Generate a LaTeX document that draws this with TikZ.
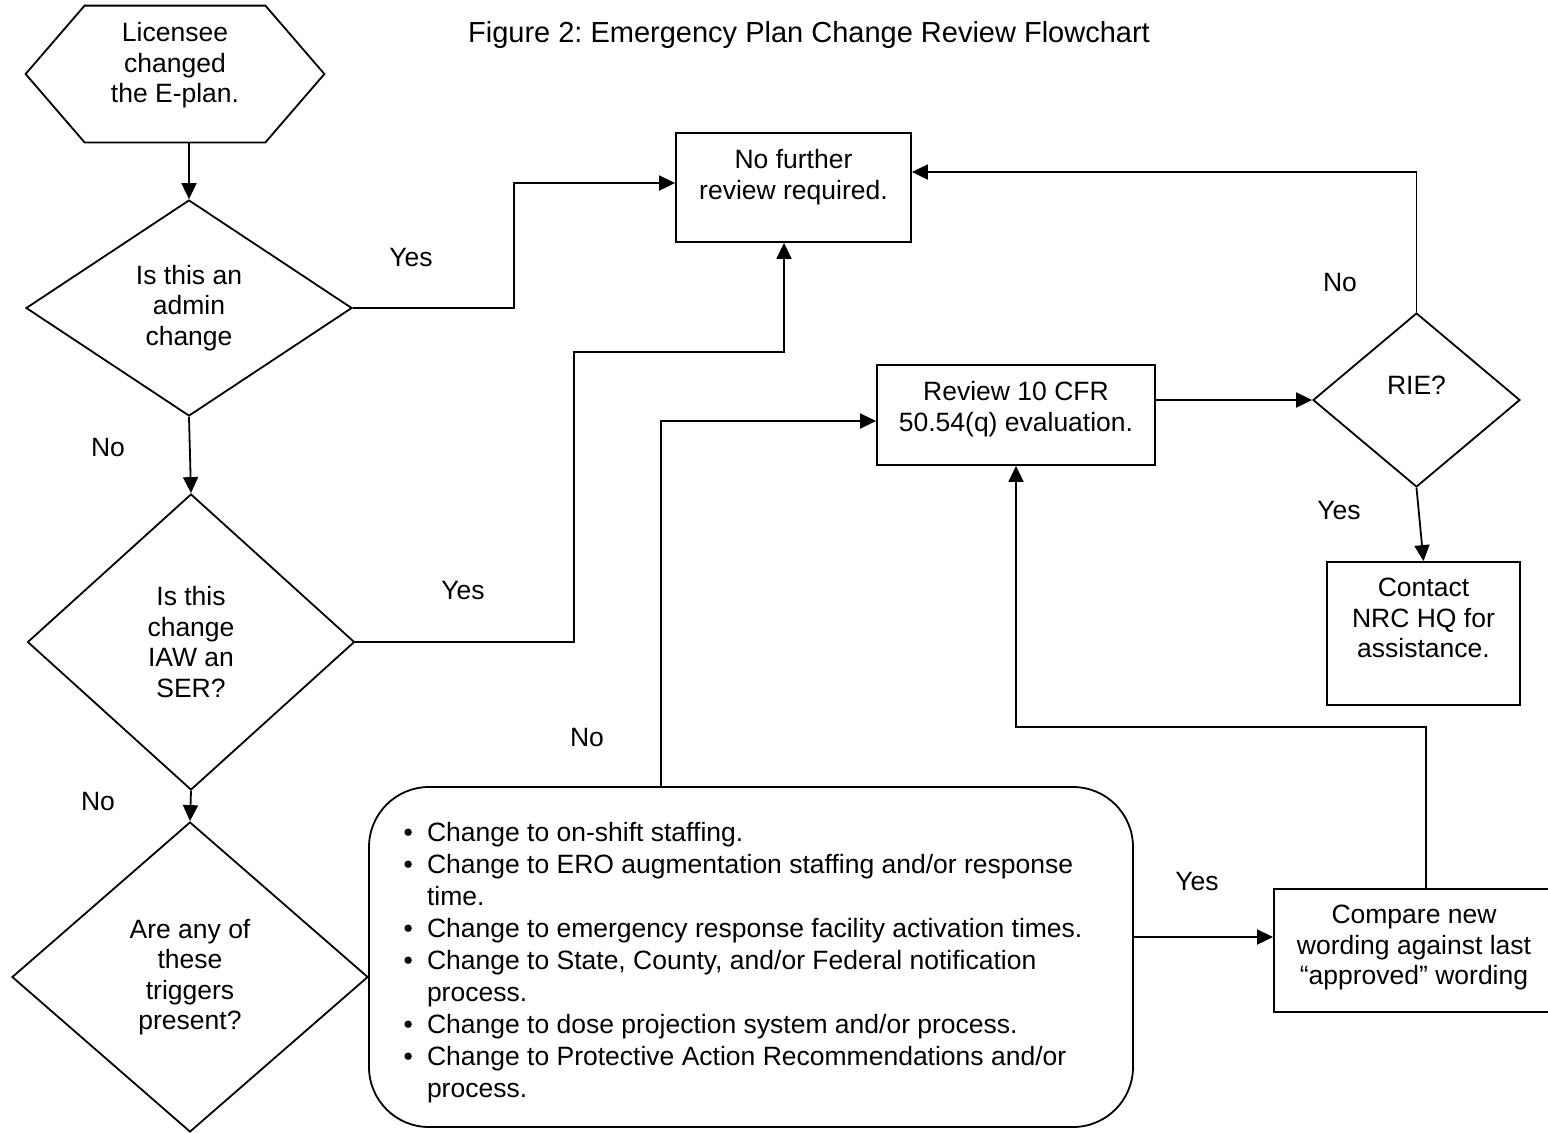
\documentclass[tikz,border=0pt]{standalone}
\usepackage{fontspec}
\setmainfont{Liberation Sans}
\frenchspacing
\usetikzlibrary{arrows.meta,shapes.geometric}
\tikzset{
every node/.style={font=\fontsize{13.25}{15.25}\selectfont}, % body text size
proc/.style={draw, rectangle, inner sep=0pt, line width=0.9pt}, % process box
decide/.style={draw, diamond, inner sep=0pt, align=center, line width=0.9pt}, % yes/no question
flow/.style={-{Triangle[length=8pt,width=7.5pt]}, line width=0.9pt}, % connectors
}
% text that starts at the top of a box
\newcommand{\toptext}[3]{\parbox[c][#2][t]{#1}{\vspace*{8.2pt}\centering #3}}

\begin{document}
\begin{tikzpicture}[x=0.5pt, y=-0.5pt]
\useasboundingbox (0,0) rectangle (1548,1132);
\node (title) at (809,35) {\fontsize{14.5}{17}\selectfont Figure 2: Emergency Plan Change Review Flowchart};

% start
\node[inner sep=0pt] (lic) at (175,74) {\toptext{149pt}{68pt}{Licensee\\changed\\the E-plan.}};
\draw[line width=0.9pt] (lic.west) -- ([xshift=29.5pt]lic.north west) -- ([xshift=-29.5pt]lic.north east)
  -- (lic.east) -- ([xshift=-29.5pt]lic.south east) -- ([xshift=29.5pt]lic.south west) -- cycle;

% questions
\node[decide, minimum width=163pt, minimum height=108pt] (admin) at (189,308) {Is this an\\admin\\change};
\node[decide, minimum width=163.5pt, minimum height=148pt] (ser) at (191,642) {Is this\\change\\IAW an\\SER?};
\node[decide, minimum width=178pt, minimum height=155pt] (trig) at (190,977) {Are any of\\these\\triggers\\present?};
\node[decide, minimum width=103.5pt, minimum height=87pt] (rie) at (1416.5,400) {RIE?\\ \mbox{}};

% boxes
\node[proc] (nfr) at (793.5,187.5) {\toptext{117.5pt}{54.5pt}{No further\\review required.}};
\node[proc] (rev) at (1016,415) {\toptext{139pt}{50pt}{Review 10 CFR\\50.54(q) evaluation.}};
\node[proc] (nrc) at (1423.5,633.5) {\toptext{96.5pt}{71.5pt}{Contact\\NRC HQ for\\assistance.}};
\node[proc] (cmp) at (1414,950.5) {\toptext{140pt}{61.5pt}{Compare new\\wording against last\\“approved” wording}};
\node[proc, rounded corners=30pt] (trglist) at (751,957) {\parbox[c][170pt][t]{382pt}{\vspace*{17.8pt}%
  \fontsize{13.25}{16}\selectfont\raggedright
  \begin{list}{\textbullet}{\setlength{\leftmargin}{29pt}\setlength{\labelsep}{7pt}\setlength{\labelwidth}{10pt}%
    \setlength{\itemsep}{0pt}\setlength{\parsep}{0pt}\setlength{\topsep}{0pt}\setlength{\partopsep}{0pt}}
  \item Change to on-shift staffing.
  \item Change to ERO augmentation staffing and/or response\newline time.
  \item Change to emergency response facility activation times.
  \item Change to State, County, and/or Federal notification\newline process.
  \item Change to dose projection system and/or process.
  \item Change to Protective Action Recommendations and/or\newline process.
  \end{list}}};

% connectors
\draw[flow] (admin.north |- lic.south) -- (admin.north);
\draw[flow] (admin.east) -- (514,308) |- ([yshift=2.25pt]nfr.west);
\draw[flow] (admin.south) -- (ser.north);
\draw[flow] (ser.east) -| (574,352) -| ([xshift=-4.75pt]nfr.south);
\draw[flow] (ser.south) -- (trig.north);
\draw[flow] ([xshift=-45pt]trglist.north) |- ([yshift=-3pt]rev.west);
\draw[flow] (rev.east |- rie.west) -- (rie.west);
\draw[flow] (rie.north) |- ([yshift=7.75pt]nfr.east);
\draw[flow] (rie.south) -- (nrc.north);
\draw[flow] ([yshift=6.75pt]cmp.west -| trglist.east) -- ([yshift=6.75pt]cmp.west);
\draw[flow] ([xshift=6pt]cmp.north) -- ++(0,-161) -| (rev.south);

% labels
\node (yes1) at (411,258) {Yes};
\node (no1) at (108,447) {No};
\node (yes2) at (463,590) {Yes};
\node (no2) at (98,801) {No};
\node (no3) at (587,737) {No};
\node (no4) at (1340,282) {No};
\node (yes4) at (1339,510) {Yes};
\node (yes5) at (1197,881) {Yes};
\end{tikzpicture}
\end{document}
